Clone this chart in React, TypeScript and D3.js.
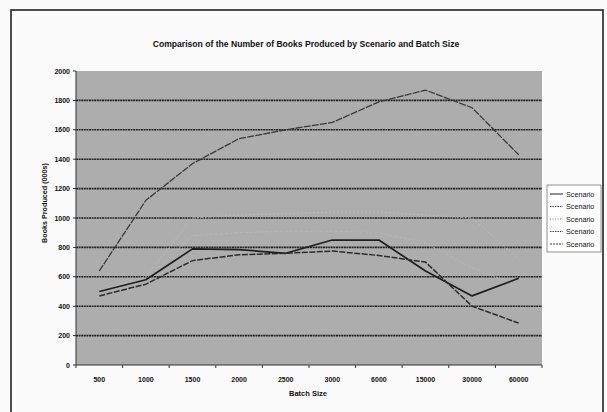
import React from "react";
import * as d3 from "d3";

const categories = ["500", "1000", "1500", "2000", "2500", "3000", "6000", "15000", "30000", "60000"];
const seriesNames = ["Scenario", "Scenario", "Scenario", "Scenario", "Scenario"];
const seriesTop = [640, 1120, 1370, 1540, 1600, 1650, 1790, 1870, 1750, 1430];
const seriesA = [500, 580, 790, 785, 760, 850, 850, 640, 470, 590];
const seriesB = [470, 550, 710, 750, 760, 775, 745, 700, 400, 285];
const seriesD = [490, 580, 880, 900, 910, 910, 900, 830, 660, 540];
const seriesE = [510, 600, 1000, 1020, 1030, 1040, 1040, 1020, 1000, 720];
const yTicks = [0, 200, 400, 600, 800, 1000, 1200, 1400, 1600, 1800, 2000];

const W = 607, H = 412;
const plot = { l: 76, r: 542, t: 71, b: 365 };

export default function App() {
  const x = d3.scaleBand<string>().domain(categories).range([plot.l, plot.r]).padding(0);
  const y = d3.scaleLinear().domain([0, 2000]).range([plot.b, plot.t]);
  const cx = (c: string) => (x(c) as number) + x.bandwidth() / 2;
  const line = d3.line<number>().x((_, i) => cx(categories[i])).y((v) => y(v));

  const series = [
    { data: seriesE, stroke: "#b9b9b9", width: 0.9, dash: "2,2" },
    { data: seriesD, stroke: "#b6b6b6", width: 0.9, dash: "3,2" },
    { data: seriesA, stroke: "#1e1e1e", width: 1.7, dash: "" },
    { data: seriesB, stroke: "#2c2c2c", width: 1.5, dash: "6,1.5" },
    { data: seriesTop, stroke: "#3a3a3a", width: 1.3, dash: "7,1.2" },
  ];
  const legendStyles = [
    { stroke: "#222", dash: "" },
    { stroke: "#444", dash: "1.5,1" },
    { stroke: "#777", dash: "1,1.5" },
    { stroke: "#444", dash: "1.5,1" },
    { stroke: "#333", dash: "2,1" },
  ];
  const font = "'Liberation Sans', Arial, sans-serif";

  return (
    <svg width={W} height={H} style={{ position: "absolute", left: 0, top: 0, background: "#fbfbfb" }} fontFamily={font}>
      <rect x={0} y={0} width={W} height={H} fill="#fbfbfb" />
      <rect x={11} y={10} width={592} height={420} fill="none" stroke="#222" strokeWidth={1.6} />
      <text x={306} y={47} textAnchor="middle" fontSize={8.6} fontWeight="bold" fill="#111">
        Comparison of the Number of Books Produced by Scenario and Batch Size
      </text>
      <rect x={plot.l} y={plot.t} width={plot.r - plot.l} height={plot.b - plot.t} fill="#adadad" />
      {yTicks.filter((t) => t > 0 && t < 2000).map((t) => (
        <line key={t} x1={plot.l} x2={plot.r} y1={y(t)} y2={y(t)} stroke="#222" strokeWidth={1.6} strokeDasharray="2,0.6" />
      ))}
      <line x1={plot.l} x2={plot.l} y1={plot.t} y2={plot.b} stroke="#333" strokeWidth={1} />
      <line x1={plot.l} x2={plot.r} y1={plot.b} y2={plot.b} stroke="#333" strokeWidth={1} />
      {yTicks.map((t) => (
        <g key={"yt" + t}>
          <line x1={plot.l - 3} x2={plot.l} y1={y(t)} y2={y(t)} stroke="#333" />
          <text x={70} y={y(t) + 2.5} textAnchor="end" fontSize={7} fontWeight="bold" fill="#111">{t}</text>
        </g>
      ))}
      {categories.map((c) => (
        <g key={"xt" + c}>
          <line x1={x(c) as number} x2={x(c) as number} y1={plot.b} y2={plot.b + 3} stroke="#333" />
          <text x={cx(c)} y={382} textAnchor="middle" fontSize={7} fontWeight="bold" fill="#111">{c}</text>
        </g>
      ))}
      <line x1={plot.r} x2={plot.r} y1={plot.b} y2={plot.b + 3} stroke="#333" />
      {series.map((s, i) => (
        <path key={"s" + i} d={line(s.data) || ""} fill="none" stroke={s.stroke} strokeWidth={s.width} strokeDasharray={s.dash} strokeLinejoin="round" />
      ))}
      <text x={308} y={396} textAnchor="middle" fontSize={7.5} fontWeight="bold" fill="#111">Batch Size</text>
      <text transform={`translate(47,${(plot.t + plot.b) / 2 - 15}) rotate(-90)`} textAnchor="middle" fontSize={7.2} fontWeight="bold" fill="#111">
        Books Produced (000s)
      </text>
      <rect x={547} y={185} width={54} height={67} fill="#fff" stroke="#777" strokeWidth={0.8} />
      {seriesNames.map((n, i) => (
        <g key={"lg" + i}>
          <line x1={550} x2={563} y1={194 + i * 12.5} y2={194 + i * 12.5} stroke={legendStyles[i].stroke} strokeWidth={1} strokeDasharray={legendStyles[i].dash} />
          <text x={566} y={196.5 + i * 12.5} fontSize={7.2} fill="#111">{n}</text>
        </g>
      ))}
    </svg>
  );
}
